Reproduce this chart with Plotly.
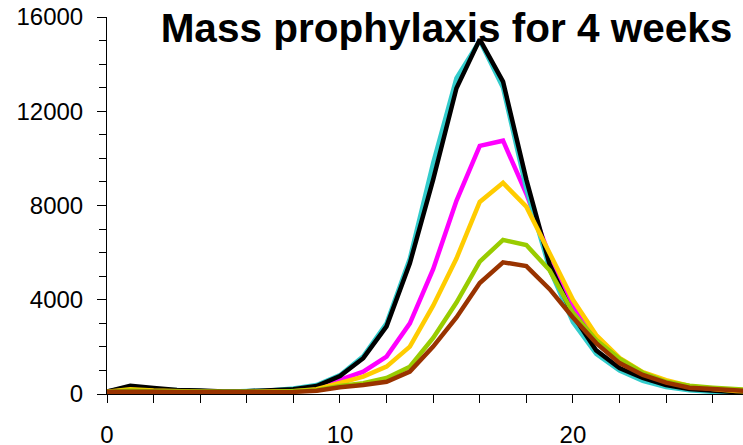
import plotly.graph_objects as go

weeks = list(range(0, 29))

cyan_vals = [100, 300, 200, 150, 130, 100, 120, 150, 230, 380, 800, 1600, 3000, 5750, 9800,
             13400, 15000, 13000, 8700, 5300, 3050, 1700, 1000, 560, 300, 160, 90, 60, 40]
black_vals = [100, 350, 250, 170, 150, 110, 120, 140, 200, 340, 760, 1520, 2870, 5550, 9100,
              12980, 15050, 13260, 9100, 5500, 3350, 1850, 1100, 680, 380, 210, 130, 80, 50]
magenta_vals = [100, 250, 180, 130, 110, 90, 90, 100, 150, 260, 600, 950, 1590, 3000, 5300,
                8200, 10530, 10750, 8500, 5850, 3700, 2200, 1350, 800, 460, 260, 160, 100, 60]
yellow_vals = [100, 200, 150, 110, 100, 80, 80, 90, 120, 200, 460, 735, 1160, 2010, 3750,
               5750, 8150, 8960, 7950, 6000, 4000, 2500, 1530, 930, 590, 340, 210, 130, 80]
green_vals = [100, 150, 120, 100, 90, 80, 80, 80, 100, 160, 340, 460, 680, 1160, 2380,
              3880, 5620, 6540, 6320, 5250, 3450, 2290, 1500, 900, 520, 350, 270, 210, 150]
brown_vals = [100, 120, 100, 90, 80, 70, 70, 70, 90, 140, 290, 380, 520, 950, 2010,
              3250, 4710, 5590, 5430, 4450, 3250, 2160, 1310, 810, 480, 270, 210, 140, 100]

y_tick_vals = [0, 4000, 8000, 12000, 16000]
y_tick_text = ["0", "4000", "8000", "12000", "16000"]
x_tick_vals = [0, 10, 20]
x_tick_text = ["0", "10", "20"]

series = [
    ("magenta", magenta_vals, "#FF00FF"),
    ("cyan", cyan_vals, "#33CCCC"),
    ("black", black_vals, "#000000"),
    ("yellow", yellow_vals, "#FFCC00"),
    ("green", green_vals, "#99CC00"),
    ("brown", brown_vals, "#993300"),
]

title_text = "Mass prophylaxis for 4 weeks"

fig = go.Figure()
for name, vals, color in series:
    fig.add_trace(go.Scatter(x=weeks, y=vals, mode="lines", name=name,
                             line=dict(color=color, width=4.5), showlegend=False))

font_family = "Liberation Sans, Arial, sans-serif"

fig.update_layout(
    width=743, height=445,
    margin=dict(l=107, r=0, t=17, b=51, autoexpand=False),
    paper_bgcolor="white", plot_bgcolor="white",
    font=dict(family=font_family, size=24, color="black"),
    title=dict(text="<b>" + title_text + "</b>", xref="container", yref="container",
               x=446.5 / 743, xanchor="center", y=1 - 28 / 445, yanchor="middle",
               font=dict(family=font_family, size=40.5, color="black")),
    xaxis=dict(range=[0, 27.3], tickvals=x_tick_vals, ticktext=x_tick_text, ticks="outside",
               ticklen=8, tickwidth=1, tickcolor="black", showline=True, linecolor="black",
               linewidth=1, showgrid=False, zeroline=False, ticklabelstandoff=11,
               automargin=False,
               minor=dict(dtick=2, ticks="outside", ticklen=8, tickwidth=1,
                          tickcolor="black", showgrid=False)),
    yaxis=dict(range=[0, 16000], tickvals=y_tick_vals, ticktext=y_tick_text, ticks="outside",
               ticklen=9, tickwidth=1, tickcolor="black", showline=True, linecolor="black",
               linewidth=1, showgrid=False, zeroline=False, ticklabelstandoff=9,
               automargin=False,
               minor=dict(dtick=1000, ticks="outside", ticklen=7, tickwidth=1,
                          tickcolor="black", showgrid=False)),
)

fig.write_html("out.html")
